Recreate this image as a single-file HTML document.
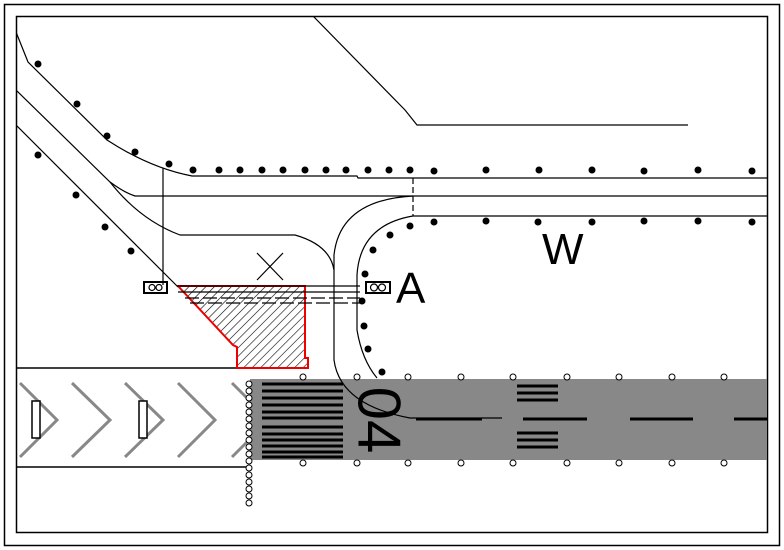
<!DOCTYPE html>
<html><head><meta charset="utf-8"><style>
html,body{margin:0;padding:0;background:#fff;width:784px;height:550px;overflow:hidden}
svg{display:block}
text{font-family:"Liberation Sans","DejaVu Sans",sans-serif}
</style></head><body>
<svg width="784" height="550" viewBox="0 0 784 550" xmlns="http://www.w3.org/2000/svg">
<defs>
<pattern id="h" patternUnits="userSpaceOnUse" width="6" height="6" patternTransform="rotate(45)">
<line x1="0" y1="0" x2="0" y2="6" stroke="#000" stroke-width="1.2"/>
</pattern>
<clipPath id="c"><rect x="16" y="16" width="751" height="517"/></clipPath>
</defs>
<rect x="4.5" y="4.5" width="775" height="541" fill="none" stroke="#000" stroke-width="1.5"/>
<rect x="16.5" y="16.5" width="751" height="516" fill="none" stroke="#000" stroke-width="1.5"/>
<g clip-path="url(#c)" fill="none" stroke="#000" stroke-width="1.2">
<rect x="250" y="379" width="518" height="81" fill="#888" stroke="none"/>
<line x1="16" y1="368" x2="237" y2="368" stroke-width="1.5"/>
<line x1="16" y1="467" x2="249" y2="467" stroke-width="1.5"/>
<g stroke="#888" stroke-width="3">
<polyline points="20,383 57,420 20,457"/>
<polyline points="72,383 110,420 72,457"/>
<polyline points="125,383 163,420 125,457"/>
<polyline points="178,383 215,420 178,457"/>
<polyline points="232,383 250,401"/><polyline points="232,457 250,439"/>
</g>
<rect x="32" y="401" width="8" height="37" fill="#fff" stroke-width="1.5"/>
<rect x="139" y="401" width="8" height="37" fill="#fff" stroke-width="1.5"/>
<g stroke-width="3">
<line x1="262" y1="384" x2="343" y2="384"/><line x1="262" y1="391" x2="343" y2="391"/>
<line x1="262" y1="398" x2="343" y2="398"/><line x1="262" y1="405" x2="343" y2="405"/>
<line x1="262" y1="412" x2="343" y2="412"/><line x1="262" y1="418" x2="343" y2="418"/>
<line x1="262" y1="427" x2="343" y2="427"/><line x1="262" y1="434" x2="343" y2="434"/>
<line x1="262" y1="440" x2="343" y2="440"/><line x1="262" y1="446" x2="343" y2="446"/>
<line x1="262" y1="452" x2="343" y2="452"/><line x1="262" y1="457" x2="343" y2="457"/>
<line x1="517" y1="386" x2="558" y2="386"/><line x1="517" y1="393" x2="558" y2="393"/><line x1="517" y1="400" x2="558" y2="400"/>
<line x1="517" y1="433" x2="558" y2="433"/><line x1="517" y1="440" x2="558" y2="440"/><line x1="517" y1="447" x2="558" y2="447"/>
<line x1="416" y1="419" x2="482" y2="419"/><line x1="523" y1="419" x2="587" y2="419"/>
<line x1="630" y1="419" x2="693" y2="419"/><line x1="734" y1="419" x2="768" y2="419"/>
</g>
<text x="0" y="0" transform="translate(379,420) rotate(90)" font-size="60" fill="#000" stroke="none" text-anchor="middle" dominant-baseline="central">04</text>
<polygon points="178,286 305,286 305,358 308,358 308,368 237,368 237,347 233,345" fill="url(#h)" stroke="#e00" stroke-width="2"/>
<line x1="178" y1="286" x2="360" y2="286"/>
<line x1="178" y1="292" x2="360" y2="292"/>
<line x1="185" y1="298" x2="360" y2="298" stroke-dasharray="14,4"/>
<line x1="190" y1="303" x2="360" y2="303" stroke-dasharray="14,4"/>
<path d="M16,32 L28,62 L107,140 Q150,168 192,176 L357,176 L358,178 L768,178"/>
<path d="M16,90 L110,182 Q125,193 135,196 L768,196"/>
<path d="M110,182 Q140,220 180,235 L295,235 Q330,245 334,270 L334,360 Q340,405 410,418 L502,418"/>
<path d="M334,270 L334,255 Q340,200 413,196"/>
<path d="M768,216 L413,216 Q360,225 357,275 L357,330 Q362,360 377,378"/>
<line x1="16" y1="125" x2="178" y2="287"/>
<line x1="163" y1="168" x2="163" y2="285"/>
<line x1="413" y1="178" x2="413" y2="216" stroke-dasharray="6,3"/>
<path d="M313,16 L405,110 L417,125 L688,125"/>
<line x1="257" y1="253" x2="283" y2="280"/><line x1="283" y1="253" x2="257" y2="280"/>
<rect x="144" y="282" width="23" height="11" stroke-width="2"/>
<circle cx="152" cy="287.5" r="3"/><circle cx="159" cy="287.5" r="3"/>
<rect x="366" y="282" width="24" height="11" stroke-width="2"/>
<circle cx="374" cy="287.5" r="3.5"/><circle cx="382" cy="287.5" r="3.5"/>
</g>
<g fill="#000">
<circle cx="38" cy="64" r="3.5"/><circle cx="77" cy="104" r="3.5"/><circle cx="107" cy="136" r="3.5"/><circle cx="135" cy="152" r="3.5"/><circle cx="169" cy="164" r="3.5"/>
<circle cx="193" cy="170" r="3.5"/><circle cx="219" cy="170" r="3.5"/><circle cx="240" cy="170" r="3.5"/><circle cx="262" cy="170" r="3.5"/><circle cx="283" cy="170" r="3.5"/><circle cx="305" cy="170" r="3.5"/><circle cx="326" cy="170" r="3.5"/><circle cx="346" cy="170" r="3.5"/><circle cx="368" cy="170" r="3.5"/><circle cx="389" cy="170" r="3.5"/><circle cx="410" cy="170" r="3.5"/><circle cx="434" cy="171" r="3.5"/><circle cx="486" cy="170" r="3.5"/><circle cx="539" cy="170" r="3.5"/><circle cx="592" cy="170" r="3.5"/><circle cx="644" cy="171" r="3.5"/><circle cx="698" cy="170" r="3.5"/><circle cx="752" cy="171" r="3.5"/>
<circle cx="434" cy="222" r="3.5"/><circle cx="486" cy="221" r="3.5"/><circle cx="538" cy="222" r="3.5"/><circle cx="592" cy="222" r="3.5"/><circle cx="644" cy="221" r="3.5"/><circle cx="698" cy="221" r="3.5"/><circle cx="752" cy="222" r="3.5"/>
<circle cx="410" cy="226" r="3.5"/><circle cx="390" cy="235" r="3.5"/><circle cx="373" cy="250" r="3.5"/><circle cx="365" cy="274" r="3.5"/><circle cx="362" cy="301" r="3.5"/><circle cx="364" cy="326" r="3.5"/><circle cx="368" cy="349" r="3.5"/><circle cx="382" cy="372" r="3.5"/>
<circle cx="38" cy="155" r="3.5"/><circle cx="76" cy="195" r="3.5"/><circle cx="105" cy="227" r="3.5"/><circle cx="131" cy="251" r="3.5"/>
</g>
<g fill="#fff" stroke="#000" stroke-width="1">
<circle cx="303" cy="377" r="3"/><circle cx="357" cy="377" r="3"/><circle cx="408" cy="377" r="3"/><circle cx="461" cy="377" r="3"/><circle cx="513" cy="377" r="3"/><circle cx="567" cy="377" r="3"/><circle cx="619" cy="377" r="3"/><circle cx="672" cy="377" r="3"/><circle cx="724" cy="377" r="3"/>
<circle cx="303" cy="463" r="3"/><circle cx="357" cy="463" r="3"/><circle cx="408" cy="463" r="3"/><circle cx="461" cy="463" r="3"/><circle cx="513" cy="463" r="3"/><circle cx="567" cy="463" r="3"/><circle cx="619" cy="463" r="3"/><circle cx="672" cy="463" r="3"/><circle cx="724" cy="463" r="3"/>
<circle cx="249" cy="384" r="3"/><circle cx="249" cy="391" r="3"/><circle cx="249" cy="398" r="3"/><circle cx="249" cy="405" r="3"/><circle cx="249" cy="412" r="3"/><circle cx="249" cy="419" r="3"/><circle cx="249" cy="426" r="3"/><circle cx="249" cy="433" r="3"/><circle cx="249" cy="440" r="3"/><circle cx="249" cy="447" r="3"/><circle cx="249" cy="454" r="3"/><circle cx="249" cy="461" r="3"/><circle cx="249" cy="468" r="3"/><circle cx="249" cy="475" r="3"/><circle cx="249" cy="482" r="3"/><circle cx="249" cy="489" r="3"/><circle cx="249" cy="496" r="3"/><circle cx="249" cy="503" r="3"/>
</g>
<text x="396" y="303" font-size="44" fill="#000">A</text>
<text x="542" y="264" font-size="44" fill="#000">W</text>
</svg>
</body></html>
